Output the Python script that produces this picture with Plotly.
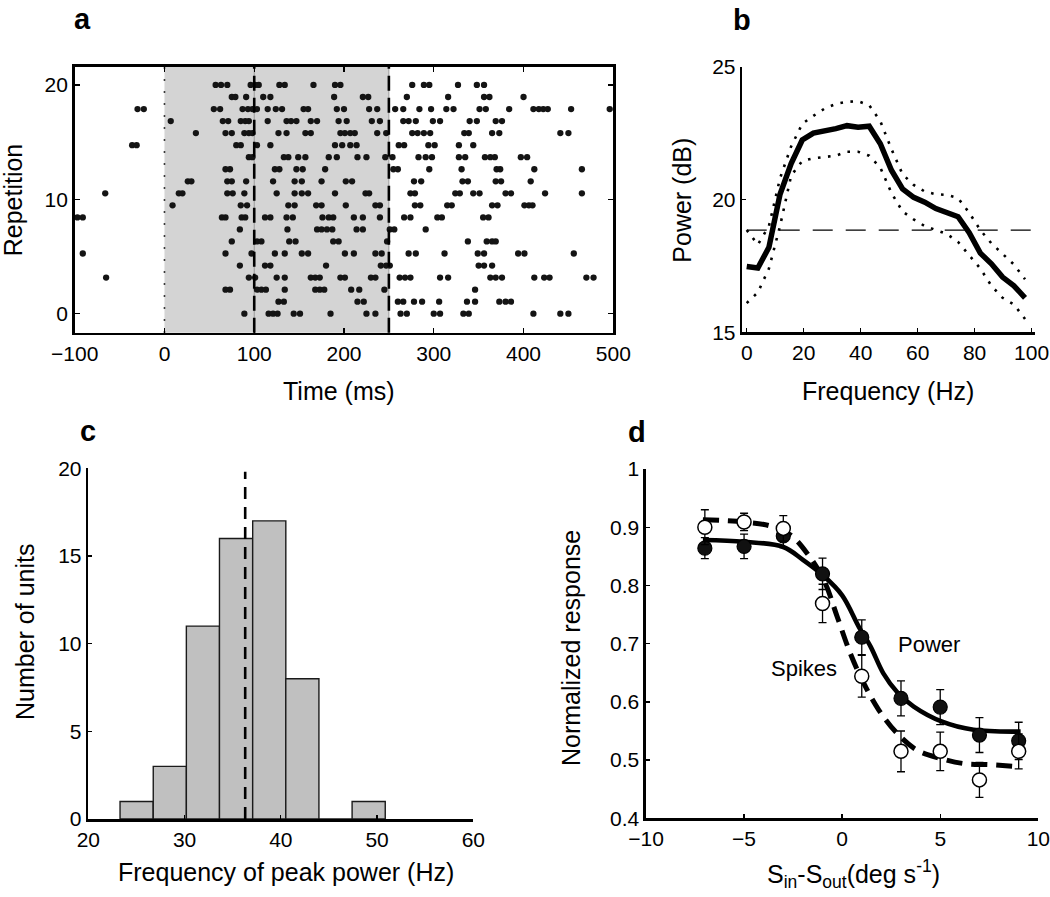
import plotly.graph_objects as go

W, H = 1050, 897
FONT = "Liberation Sans, Arial, sans-serif"

# ---------------- Panel a: spike raster ----------------
time_ticks = [-100, 0, 100, 200, 300, 400, 500]
rep_ticks = [0, 10, 20]
stim_on, analysis_on, stim_off = 0, 100, 250
# vertical position of each repetition (20 trials spread over 0..20)
rep_pos = [0.0, 1.053, 2.105, 3.158, 4.211, 5.263, 6.316, 7.368, 8.421, 9.474,
           10.526, 11.579, 12.632, 13.684, 14.737, 15.789, 16.842, 17.895, 18.947, 20.0]
# spike times (ms), bottom trial first
spikes = [
    [89, 116, 121, 126, 144, 151, 185, 225, 235, 263, 270, 300, 307, 333, 339, 411, 441, 450],
    [127, 133, 215, 222, 260, 266, 278, 287, 306, 337, 346, 373, 380, 386],
    [68, 73, 103, 108, 113, 134, 168, 173, 178, 208, 217, 245, 346],
    [-65, 94, 101, 125, 134, 163, 168, 173, 196, 201, 230, 235, 262, 268, 274, 307, 316, 363, 369, 376, 412, 423, 429, 470, 478],
    [84, 112, 118, 180, 241, 247, 251, 350, 356, 365],
    [-91, 68, 97, 123, 134, 153, 160, 201, 211, 235, 242, 272, 280, 312, 349, 356, 394, 401, 456],
    [75, 103, 108, 139, 146, 188, 194, 248, 338, 359, 365, 369],
    [84, 137, 170, 175, 181, 187, 214, 221, 251, 256, 291],
    [-97, -91, 64, 68, 86, 90, 112, 118, 136, 143, 176, 183, 188, 211, 221, 240, 267, 274, 304, 309, 355, 361],
    [9, 85, 92, 138, 145, 169, 175, 202, 235, 240, 279, 285, 315, 320, 365, 371, 401, 406, 410],
    [-66, 16, 20, 70, 76, 89, 125, 145, 153, 160, 190, 224, 228, 274, 279, 324, 329, 344, 351, 380, 386, 424, 465],
    [26, 30, 70, 75, 91, 121, 145, 153, 175, 202, 209, 278, 286, 332, 338, 369, 375, 408],
    [68, 73, 123, 128, 147, 154, 179, 255, 260, 295, 331, 370, 374, 412, 465],
    [94, 98, 133, 138, 149, 157, 183, 192, 215, 225, 246, 254, 283, 291, 298, 328, 335, 357, 363, 368, 397, 404],
    [-36, -31, 80, 85, 103, 118, 190, 198, 207, 214, 261, 267, 294, 301, 328, 344],
    [35, 68, 75, 89, 94, 98, 127, 136, 157, 163, 196, 201, 207, 212, 237, 247, 276, 282, 289, 296, 334, 339, 365, 373, 441, 450],
    [7, 65, 71, 85, 90, 94, 115, 136, 141, 147, 163, 170, 194, 203, 231, 240, 266, 272, 280, 299, 307, 340, 348, 369, 376],
    [-30, -23, 55, 62, 87, 93, 98, 103, 115, 124, 131, 155, 160, 192, 200, 228, 237, 257, 266, 284, 297, 314, 322, 351, 358, 384, 411, 417, 422, 427, 453, 496],
    [75, 79, 91, 110, 118, 189, 221, 227, 270, 316, 356, 362, 400],
    [57, 63, 70, 96, 101, 105, 128, 134, 166, 190, 196, 276, 289, 295, 327, 348, 356],
]

# ---------------- Panel b: power spectrum ----------------
freqs = [0, 3.9, 7.8, 11.7, 15.6, 19.5, 23.4, 27.3, 31.3, 35.2, 39.1, 43.0, 46.9,
         50.8, 54.7, 58.6, 62.5, 66.4, 70.3, 74.2, 78.1, 82.0, 85.9, 89.8, 93.8, 97.7]
power = [17.48, 17.42, 18.2, 20.2, 21.35, 22.24, 22.5, 22.57, 22.67, 22.78, 22.72, 22.76, 22.1,
         21.1, 20.4, 20.08, 19.9, 19.66, 19.5, 19.35, 18.75, 17.98, 17.58, 17.08, 16.75, 16.3]
power_upper = [18.85, 18.3, 19.0, 20.8, 22.0, 22.85, 23.15, 23.42, 23.6, 23.68, 23.7, 23.55, 22.95,
               21.9, 20.95, 20.55, 20.3, 20.2, 20.17, 20.05, 19.5, 18.85, 18.35, 17.95, 17.55, 17.0]
power_lower = [16.1, 16.5, 17.4, 19.0, 20.9, 21.45, 21.55, 21.6, 21.65, 21.8, 21.8, 21.65, 21.2,
               20.25, 19.55, 19.25, 19.0, 18.85, 18.7, 18.4, 17.9, 17.4, 16.75, 16.3, 16.05, 15.5]
baseline_db = 18.85
freq_ticks = [0, 20, 40, 60, 80, 100]
db_ticks = [15, 20, 25]

# ---------------- Panel c: histogram ----------------
bin_centers = [25.02, 28.47, 31.91, 35.35, 38.80, 42.24, 45.69, 49.13]
unit_counts = [1, 3, 11, 16, 17, 8, 0, 1]
bin_width = 3.444
mean_peak = 36.3
peak_ticks = [20, 30, 40, 50, 60]
count_ticks = [0, 5, 10, 15, 20]

# ---------------- Panel d: normalized response ----------------
speed_diff = [-7, -5, -3, -1, 1, 3, 5, 7, 9]
power_resp = [0.864, 0.867, 0.885, 0.820, 0.711, 0.606, 0.591, 0.543, 0.533]
power_err = [0.018, 0.021, 0.020, 0.027, 0.030, 0.030, 0.030, 0.030, 0.032]
spike_resp = [0.900, 0.909, 0.898, 0.769, 0.644, 0.515, 0.515, 0.466, 0.515]
spike_err = [0.030, 0.015, 0.022, 0.033, 0.036, 0.035, 0.033, 0.030, 0.030]
power_fit_x = [-7.1, -5, -3, -2, -1, 0, 0.85, 1.45, 2.1, 2.8, 3.65, 5.1, 6.7, 9.1]
power_fit = [0.878, 0.875, 0.866, 0.844, 0.818, 0.783, 0.729, 0.695, 0.649, 0.617, 0.592, 0.566, 0.552, 0.549]
spike_fit_x = [-7.1, -5, -3.65, -2.63, -1.78, -0.93, -0.25, 0.42, 1.1, 1.87, 2.8, 3.82, 5.0, 6.2, 7.56, 8.9]
spike_fit = [0.913, 0.909, 0.902, 0.8865, 0.855, 0.809, 0.746, 0.683, 0.632, 0.586, 0.546, 0.517, 0.503, 0.494, 0.492, 0.489]
speed_ticks = [-10, -5, 0, 5, 10]
resp_ticks = [0.4, 0.5, 0.6, 0.7, 0.8, 0.9, 1.0]


def px_dom_x(a, b):
    return [a / W, b / W]


def px_dom_y(top, bottom):
    return [1 - bottom / H, 1 - top / H]


def axis(domain, rng, tickvals, anchor, mirror=False, ticklen=5, lw=2.6):
    return dict(domain=domain, range=rng, tickvals=tickvals, anchor=anchor,
                showline=True, linecolor="black", linewidth=lw, mirror=mirror,
                ticks="inside", ticklen=ticklen, tickwidth=1.4, tickcolor="black",
                showgrid=False, zeroline=False, fixedrange=True,
                tickfont=dict(family=FONT, size=21, color="black"))


fig = go.Figure()

# ---- a ----
xs, ys = [], []
for pos, trial in zip(rep_pos, spikes):
    xs.extend(trial)
    ys.extend([pos] * len(trial))
fig.add_trace(go.Scatter(x=xs, y=ys, mode="markers", xaxis="x", yaxis="y",
                         marker=dict(size=6.3, color="#141414", line=dict(width=0))))

shapes = [
    dict(type="rect", xref="x", yref="y domain", x0=stim_on, x1=stim_off, y0=0, y1=1,
         fillcolor="#d4d4d4", line=dict(width=0), layer="below"),
    dict(type="line", xref="x", yref="y domain", x0=analysis_on, x1=analysis_on, y0=0, y1=1,
         line=dict(color="#9a9a9a", width=1), layer="below"),
    dict(type="line", xref="x", yref="y domain", x0=stim_off, x1=stim_off, y0=0, y1=1,
         line=dict(color="#9a9a9a", width=1), layer="below"),
    dict(type="line", xref="x", yref="y domain", x0=stim_on, x1=stim_on, y0=0, y1=1,
         line=dict(color="black", width=1.6, dash="1.5px,10.5px")),
    dict(type="line", xref="x", yref="y domain", x0=analysis_on, x1=analysis_on, y0=0, y1=1,
         line=dict(color="black", width=2.6, dash="15px,7px")),
    dict(type="line", xref="x", yref="y domain", x0=stim_off, x1=stim_off, y0=0, y1=1,
         line=dict(color="black", width=2.6, dash="15px,7px")),
]

# ---- b ----
fig.add_trace(go.Scatter(x=[freqs[0], 100], y=[baseline_db, baseline_db], mode="lines",
                         xaxis="x2", yaxis="y2",
                         line=dict(color="black", width=1.3, dash="20px,13px")))
fig.add_trace(go.Scatter(x=freqs, y=power_upper, mode="lines", xaxis="x2", yaxis="y2",
                         line=dict(color="black", width=2.6, dash="2.6px,7.5px")))
fig.add_trace(go.Scatter(x=freqs, y=power_lower, mode="lines", xaxis="x2", yaxis="y2",
                         line=dict(color="black", width=2.6, dash="2.6px,7.5px")))
fig.add_trace(go.Scatter(x=freqs, y=power, mode="lines", xaxis="x2", yaxis="y2",
                         line=dict(color="black", width=5.5)))

# ---- c ----
fig.add_trace(go.Bar(x=bin_centers, y=unit_counts, width=bin_width, xaxis="x3", yaxis="y3",
                     marker=dict(color="#c0c0c0", line=dict(color="#1a1a1a", width=1.4))))
fig.add_trace(go.Scatter(x=[mean_peak, mean_peak], y=[0, 19.8], mode="lines", xaxis="x3", yaxis="y3",
                         line=dict(color="black", width=2.6, dash="12px,8px")))

# ---- d ----
fig.add_trace(go.Scatter(x=power_fit_x, y=power_fit, mode="lines", xaxis="x4", yaxis="y4",
                         line=dict(color="black", width=4.6, shape="spline")))
fig.add_trace(go.Scatter(x=spike_fit_x, y=spike_fit, mode="lines", xaxis="x4", yaxis="y4",
                         line=dict(color="black", width=5, dash="16px,9px", shape="spline")))
fig.add_trace(go.Scatter(x=speed_diff, y=power_resp, mode="markers", xaxis="x4", yaxis="y4",
                         error_y=dict(type="data", array=power_err, color="black", thickness=1.3, width=4),
                         marker=dict(size=14, color="#111111", line=dict(color="black", width=1.2))))
fig.add_trace(go.Scatter(x=speed_diff, y=spike_resp, mode="markers", xaxis="x4", yaxis="y4",
                         error_y=dict(type="data", array=spike_err, color="black", thickness=1.3, width=4),
                         marker=dict(size=14, color="white", line=dict(color="black", width=1.5))))

layout = dict(
    width=W, height=H, margin=dict(l=0, r=0, t=0, b=0, autoexpand=False),
    paper_bgcolor="white", plot_bgcolor="white", showlegend=False, hovermode=False,
    font=dict(family=FONT, color="black"),
    xaxis=axis(px_dom_x(74.7, 613.3), [-100, 500], time_ticks, "y", mirror="ticks"),
    yaxis=axis(px_dom_y(67, 332.7), [-1.66, 21.57], rep_ticks, "x", mirror="ticks"),
    xaxis2=axis(px_dom_x(742.3, 1035), [-1.55, 101.2], freq_ticks, "y2", ticklen=4),
    yaxis2=axis(px_dom_y(66.7, 332.3), [15, 25], db_ticks, "x2", ticklen=4),
    xaxis3=axis(px_dom_x(88.3, 473.3), [20, 60], peak_ticks, "y3", ticklen=4),
    yaxis3=axis(px_dom_y(468.3, 819), [0, 20], count_ticks, "x3", ticklen=4),
    xaxis4=axis(px_dom_x(646, 1038.3), [-10, 10], speed_ticks, "y4", ticklen=4),
    yaxis4=axis(px_dom_y(469, 818.3), [0.4, 1.0], resp_ticks, "x4", ticklen=4),
    shapes=shapes,
    bargap=0,
)


def ann(text, x, y, size=25, angle=0, bold=False, xref="paper", yref="paper"):
    if bold:
        text = "<b>" + text + "</b>"
    if xref == "paper":
        x = x / W
    if yref == "paper":
        y = 1 - y / H
    return dict(text=text, x=x, y=y, xref=xref, yref=yref, showarrow=False,
                xanchor="center", yanchor="middle", textangle=angle,
                font=dict(family=FONT, size=size, color="black"))


annotations = [
    ann("a", 82.5, 19, size=29, bold=True),
    ann("b", 742.3, 20, size=29, bold=True),
    ann("c", 88.3, 431, size=29, bold=True),
    ann("d", 637, 432, size=29, bold=True),
    ann("Repetition", 13.3, 200, angle=-90),
    ann("Time (ms)", 339, 391),
    ann("Power (dB)", 681.7, 200, angle=-90),
    ann("Frequency (Hz)", 888, 391),
    ann("Number of units", 25, 632, angle=-90),
    ann("Frequency of peak power (Hz)", 285.8, 872),
    ann("Normalized response", 571, 648, angle=-90),
    ann("S<sub>in</sub>-S<sub>out</sub>(deg s<sup>-1</sup>)", 853.5, 874),
    ann("Power", 4.41, 0.6977, size=22, xref="x4", yref="y4"),
    ann("Spikes", -1.95, 0.6576, size=22, xref="x4", yref="y4"),
]
layout["annotations"] = annotations
fig.update_layout(**layout)

page_fix = ("document.documentElement.style.margin='0';document.body.style.margin='0';"
            "document.documentElement.style.overflow='hidden';document.body.style.overflow='hidden';")
fig.write_html("out.html", post_script=page_fix,
               config={"displayModeBar": False, "staticPlot": True})
